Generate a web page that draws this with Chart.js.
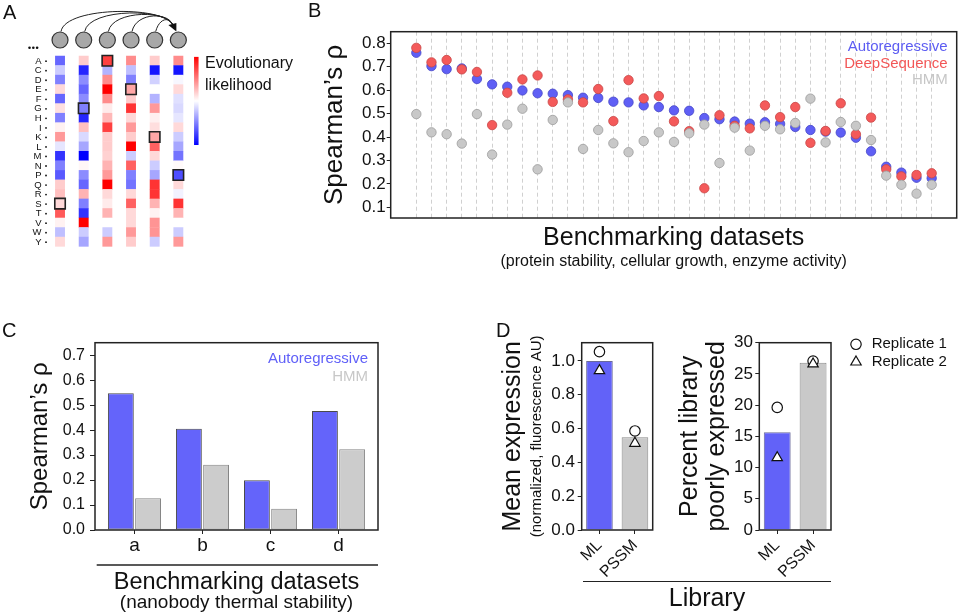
<!DOCTYPE html>
<html>
<head>
<meta charset="utf-8">
<script src="https://cdn.jsdelivr.net/npm/chart.js@4.4.1/dist/chart.umd.min.js"></script>
<style>
  body { margin: 0; background: #fff; }
  #page { position: relative; width: 960px; height: 615px; overflow: hidden; font-family: "Liberation Sans", Arial, sans-serif; color: #111; }
  #page canvas { position: absolute; }
  .tag { position: absolute; font-size: 20px; line-height: 20px; }
  .rule { position: absolute; height: 0; border-top: 1.5px solid #222; }
  .lbl { position: absolute; text-align: center; white-space: nowrap; }
</style>
</head>
<body>
<div id="page">
  <canvas id="panelA" width="300" height="260" style="left:0;top:0"></canvas>
  <canvas id="panelB" width="660" height="280" style="left:300px;top:0"></canvas>
  <canvas id="panelC" width="400" height="300" style="left:0;top:320px"></canvas>
  <canvas id="panelD1" width="180" height="295" style="left:480px;top:320px"></canvas>
  <canvas id="panelD2" width="295" height="295" style="left:665px;top:320px"></canvas>

  <div class="tag" style="left:3px;top:2px">A</div>
  <div class="tag" style="left:308px;top:0px">B</div>
  <div class="tag" style="left:2px;top:320px">C</div>
  <div class="tag" style="left:496px;top:320px">D</div>

  <div class="rule" style="left:583px;top:581px;width:248px"></div>
  <div class="lbl" style="left:607px;top:582px;width:200px;font-size:25px;line-height:30px">Library</div>
</div>

<script>
var FONT = '"Liberation Sans", Arial, sans-serif';
Chart.defaults.font.family = FONT;
Chart.defaults.color = '#111';
Chart.defaults.animation = false;
Chart.defaults.responsive = false;
Chart.defaults.events = [];
Chart.defaults.plugins.legend.display = false;
Chart.defaults.plugins.tooltip.enabled = false;

// ---------- A: per-position evolutionary likelihood ----------
var aminoAcids = ['A','C','D','E','F','G','H','I','K','L','M','N','P','Q','R','S','T','V','W','Y'];
// one array per sequence position, one score per amino acid (-1 blue ... +1 red)
var position1 = [-0.6,-0.2,-0.5,0.15,-0.6,0.12,-0.5,0.05,0.4,-0.1,-0.8,-0.5,-0.65,0.2,0.25,0.15,0.65,0.05,-0.25,0.15];
var position2 = [0.2,-0.85,-0.45,-0.6,-0.45,-0.5,-0.85,0.25,-0.15,-0.35,-1.0,0.03,-0.45,-0.6,0.3,-0.5,-0.8,1.0,-0.2,-0.35];
var position3 = [0.75,-0.3,0.45,1.0,0.45,0.08,0.28,0.75,0.2,0.2,0.18,0.3,0.4,1.0,0.15,0.08,0.3,0.0,-0.2,0.4];
var position4 = [0.45,-0.25,-0.5,0.35,0.2,0.8,0.15,0.4,0.2,1.0,-0.2,0.62,-0.5,-0.55,0.15,0.62,0.15,0.15,0.4,0.2];
var position5 = [0.2,-0.92,-0.18,0.0,-0.3,0.4,0.06,0.13,0.35,0.62,0.15,-0.2,-0.35,0.8,0.8,0.3,0.05,0.42,0.42,-0.2];
var position6 = [0.45,-0.92,-0.03,0.15,-0.12,-0.15,-0.1,0.15,-0.2,-0.35,-0.55,0.02,-0.7,0.15,-0.05,0.8,0.3,0.0,-0.2,0.4];
var wildType = ['S','G','A','E','K','P'];

// ---------- B: benchmark correlations ----------
var autoregressiveB = [0.760,0.703,0.690,0.693,0.648,0.625,0.615,0.599,0.587,0.585,0.579,0.568,0.567,0.551,0.548,0.535,0.528,0.514,0.512,0.481,0.476,0.466,0.457,0.463,0.456,0.443,0.430,0.423,0.419,0.397,0.339,0.273,0.248,0.226,0.224];
var deepSequenceB = [0.781,0.719,0.729,0.689,0.678,0.451,0.589,0.646,0.663,0.550,0.561,0.548,0.605,0.468,0.643,0.565,0.575,0.467,0.425,0.181,0.493,0.448,0.437,0.535,0.485,0.528,0.375,0.426,0.544,0.412,0.483,0.262,0.232,0.238,0.245];
var hmmB = [0.498,0.420,0.412,0.372,0.498,0.325,0.453,0.521,0.262,0.473,0.548,0.349,0.430,0.373,0.335,0.383,0.420,0.379,0.416,0.453,0.289,0.440,0.342,0.448,0.433,0.460,0.564,0.377,0.464,0.448,0.387,0.235,0.196,0.158,0.196];
var yTicksB = [0.1,0.2,0.3,0.4,0.5,0.6,0.7,0.8];

// ---------- C: nanobody thermal stability ----------
var nanobodySets = ['a','b','c','d'];
var autoregressiveC = [0.548,0.405,0.199,0.477];
var hmmC = [0.127,0.261,0.085,0.323];
var yTicksC = [0,0.1,0.2,0.3,0.4,0.5,0.6,0.7];

// ---------- D: library expression ----------
var libraries = ['ML','PSSM'];
var meanExpression = [1.0,0.548];
var expressionRep1 = [1.055,0.586];
var expressionRep2 = [0.943,0.513];
var yTicksD1 = [0,0.2,0.4,0.6,0.8,1.0];
var poorlyExpressed = [15.64,26.8];
var poorlyRep1 = [19.64,27.06];
var poorlyRep2 = [11.58,26.6];
var yTicksD2 = [0,5,10,15,20,25,30];

var BLUE = '#6262f8', GRAY = '#c9c9c9';

function bwr(v) {
  var t;
  if (v < 0) { t = Math.round(255 * (1 + v)); return 'rgb(' + t + ',' + t + ',255)'; }
  t = Math.round(255 * (1 - v));
  return 'rgb(255,' + t + ',' + t + ')';
}
function fixedTicks(list) {
  return function(scale) { scale.ticks = list.map(function(v) { return {value: v}; }); };
}

// ---------- shared plugins ----------
var framePlugin = {
  id: 'frame',
  afterDatasetsDraw: function(chart) {
    var a = chart.chartArea, ctx = chart.ctx;
    ctx.save();
    ctx.strokeStyle = '#222';
    ctx.lineWidth = 1.5;
    ctx.strokeRect(a.left, a.top, a.right - a.left, a.bottom - a.top);
    ctx.restore();
  }
};

// legend inside the plot, labels coloured like their series
var cornerLegendPlugin = {
  id: 'cornerLegend',
  afterDraw: function(chart, args, opts) {
    var a = chart.chartArea, ctx = chart.ctx;
    ctx.save();
    ctx.font = opts.size + 'px ' + FONT;
    ctx.textAlign = 'right';
    ctx.textBaseline = 'middle';
    chart.data.datasets.forEach(function(ds, i) {
      ctx.fillStyle = ds.legendColor;
      ctx.fillText(ds.label, a.right - opts.right, a.top + opts.top + i * opts.gap);
    });
    ctx.restore();
  }
};

// axis caption lines under the x axis
var captionPlugin = {
  id: 'caption',
  afterDraw: function(chart, args, opts) {
    var a = chart.chartArea, ctx = chart.ctx;
    var cx = (a.left + a.right) / 2;
    ctx.save();
    if (opts.rule) {
      ctx.strokeStyle = '#222';
      ctx.lineWidth = 1.5;
      ctx.beginPath();
      ctx.moveTo(a.left + opts.rule.inset, a.bottom + opts.rule.dy);
      ctx.lineTo(a.right, a.bottom + opts.rule.dy);
      ctx.stroke();
    }
    ctx.fillStyle = '#111';
    ctx.textAlign = 'center';
    ctx.textBaseline = 'middle';
    (opts.lines || []).forEach(function(l) {
      ctx.font = l.size + 'px ' + FONT;
      ctx.fillText(l.text, cx, a.bottom + l.dy);
    });
    ctx.restore();
  }
};

// ---------- A ----------
var positions = [position1, position2, position3, position4, position5, position6];
var heatCells = [];
positions.forEach(function(col, c) {
  col.forEach(function(v, r) { heatCells.push({x: c, y: r, v: v}); });
});
var wtCells = wildType.map(function(aa, c) {
  var r = aminoAcids.indexOf(aa);
  return {x: c, y: r, v: positions[c][r]};
});
var nodes = positions.map(function(_, c) { return {x: c, y: -2.17}; });

var schematicPlugin = {
  id: 'schematic',
  afterDatasetsDraw: function(chart) {
    var ctx = chart.ctx, ys = chart.scales.y;
    var pts = chart.getDatasetMeta(2).data;
    var first = pts[0], last = pts[pts.length - 1];
    var r = 8.5;
    ctx.save();

    // arcs from every earlier position into the last one
    ctx.strokeStyle = '#222';
    ctx.lineWidth = 1;
    var ex = last.x - 4, ey = last.y - r - 1.5;
    var lifts = [26, 24, 22, 20, 15];
    for (var i = 0; i < pts.length - 1; i++) {
      var p = pts[i], top = p.y - r;
      ctx.beginPath();
      ctx.moveTo(p.x + 1, top);
      ctx.bezierCurveTo(p.x + 5, top - lifts[i], ex - 3, top - lifts[i], ex - 1, ey - 3);
      ctx.stroke();
    }
    ctx.fillStyle = '#111';
    ctx.beginPath();
    ctx.moveTo(ex + 2, ey + 1.5);
    ctx.lineTo(ex - 6, ey - 5);
    ctx.lineTo(ex + 2, ey - 7);
    ctx.closePath();
    ctx.fill();

    // leading dots
    for (var d = 0; d < 3; d++) {
      ctx.beginPath();
      ctx.arc(first.x - 30.5 + d * 3.8, first.y + 7.7, 1.3, 0, Math.PI * 2);
      ctx.fill();
    }

    // amino-acid row labels
    ctx.font = '9.5px ' + FONT;
    ctx.textAlign = 'right';
    ctx.textBaseline = 'middle';
    aminoAcids.forEach(function(aa, row) {
      var y = ys.getPixelForValue(row);
      ctx.fillText(aa, first.x - 18.5, y + 0.5);
      ctx.beginPath();
      ctx.arc(first.x - 14, y + 0.5, 0.9, 0, Math.PI * 2);
      ctx.fill();
    });

    // colour bar
    var cbTop = ys.getPixelForValue(-0.4), cbBot = ys.getPixelForValue(8.85);
    var cbX = last.x + 15.7;
    var g = ctx.createLinearGradient(0, cbTop, 0, cbBot);
    g.addColorStop(0, bwr(1));
    g.addColorStop(0.5, bwr(0));
    g.addColorStop(1, bwr(-1));
    ctx.fillStyle = g;
    ctx.fillRect(cbX, cbTop, 4.5, cbBot - cbTop);

    ctx.fillStyle = '#111';
    ctx.font = '16px ' + FONT;
    ctx.textAlign = 'left';
    ctx.textBaseline = 'alphabetic';
    ctx.fillText('Evolutionary', cbX + 11, cbTop + 11.5);
    ctx.fillText('likelihood', cbX + 11, cbTop + 33);
    ctx.restore();
  }
};

new Chart(document.getElementById('panelA'), {
  type: 'scatter',
  data: {
    datasets: [{
      data: heatCells,
      pointStyle: 'rect',
      radius: 7.0,
      borderWidth: 0,
      backgroundColor: function(c) { return bwr(c.raw.v); },
      order: 3
    }, {
      data: wtCells,
      pointStyle: 'rect',
      radius: 7.4,
      borderWidth: 1.6,
      borderColor: '#222',
      backgroundColor: function(c) { return bwr(c.raw.v); },
      order: 2
    }, {
      data: nodes,
      pointStyle: 'circle',
      radius: 8,
      borderWidth: 1.2,
      borderColor: '#333',
      backgroundColor: '#a8a8a8',
      order: 1
    }]
  },
  options: {
    layout: {padding: 0, autoPadding: false},
    scales: {
      x: {display: false, min: -2.536, max: 10.14},
      y: {display: false, min: -6.371, max: 20.92, reverse: true}
    }
  },
  plugins: [schematicPlugin]
});

// ---------- B ----------
function toPoints(list) { return list.map(function(v, i) { return {x: i, y: v}; }); }

new Chart(document.getElementById('panelB'), {
  type: 'scatter',
  data: {
    datasets: [
      {label: 'Autoregressive', data: toPoints(autoregressiveB), backgroundColor: '#5f5ff5', borderColor: '#4646c6', legendColor: '#5c5cf2', order: 3},
      {label: 'DeepSequence', data: toPoints(deepSequenceB), backgroundColor: '#f45a5a', borderColor: '#c84646', legendColor: '#f25656', order: 2},
      {label: 'HMM', data: toPoints(hmmB), backgroundColor: '#c8c8c8', borderColor: '#9c9c9c', legendColor: '#c6c6c6', order: 1}
    ]
  },
  options: {
    layout: {padding: {top: 31.7, right: 3.3, left: 0, bottom: 0}, autoPadding: false},
    elements: {point: {radius: 4.7, borderWidth: 0.8}},
    scales: {
      x: {
        min: -1.69, max: 35.65,
        afterBuildTicks: fixedTicks(autoregressiveB.map(function(_, i) { return i; })),
        afterFit: function(s) { s.height = 62; },
        ticks: {display: false},
        grid: {color: '#d0d0d0', drawTicks: false},
        border: {display: false, dash: [4, 3]}
      },
      y: {
        min: 0.054, max: 0.85,
        afterBuildTicks: fixedTicks(yTicksB),
        afterFit: function(s) { s.width = 90.7; },
        ticks: {font: {size: 17}, padding: 1, callback: function(v) { return v.toFixed(1); }},
        grid: {drawOnChartArea: false, tickLength: 4, color: '#222'},
        border: {display: false},
        title: {display: true, text: 'Spearman’s ρ', font: {size: 26}, padding: {top: 19.4, bottom: 0}}
      }
    },
    plugins: {
      cornerLegend: {size: 15, right: 9, top: 15, gap: 16.7},
      caption: {lines: [
        {text: 'Benchmarking datasets', size: 25, dy: 20},
        {text: '(protein stability, cellular growth, enzyme activity)', size: 16, dy: 44}
      ]}
    }
  },
  plugins: [framePlugin, cornerLegendPlugin, captionPlugin]
});

// ---------- C ----------
new Chart(document.getElementById('panelC'), {
  type: 'bar',
  data: {
    datasets: [
      {label: 'Autoregressive', data: toPoints(autoregressiveC), backgroundColor: '#6464fa', borderColor: '#4a4a4a', borderWidth: 1, legendColor: '#6060f8'},
      {label: 'HMM', data: toPoints(hmmC), backgroundColor: '#cccccc', borderColor: '#858585', borderWidth: 1, legendColor: '#c8c8c8'}
    ]
  },
  options: {
    datasets: {bar: {categoryPercentage: 0.8, barPercentage: 0.95, borderSkipped: false}},
    layout: {padding: {top: 22.7, right: 22, left: 0, bottom: 0}},
    scales: {
      x: {
        type: 'linear', offset: false, min: -0.58, max: 3.58,
        afterBuildTicks: fixedTicks([0, 1, 2, 3]),
        afterFit: function(s) { s.height = 90; },
        ticks: {font: {size: 19}, padding: 0, callback: function(v) { return nanobodySets[v]; }},
        grid: {drawOnChartArea: false, offset: false, tickLength: 4, color: '#222'},
        border: {display: false}
      },
      y: {
        min: 0, max: 0.75,
        afterBuildTicks: fixedTicks(yTicksC),
        afterFit: function(s) { s.width = 95; },
        ticks: {font: {size: 16}, padding: 5, callback: function(v) { return v.toFixed(1); }},
        grid: {drawOnChartArea: false, tickLength: 5, color: '#222'},
        border: {display: false},
        title: {display: true, text: 'Spearman’s ρ', font: {size: 24}, padding: {top: 25.6, bottom: 0}}
      }
    },
    plugins: {
      cornerLegend: {size: 15, right: 10, top: 16.3, gap: 17.7},
      caption: {
        rule: {dy: 35, inset: 1.7},
        lines: [
          {text: 'Benchmarking datasets', size: 23.5, dy: 53},
          {text: '(nanobody thermal stability)', size: 19, dy: 73}
        ]
      }
    }
  },
  plugins: [framePlugin, cornerLegendPlugin, captionPlugin]
});

// ---------- D ----------
var sideNotePlugin = {
  id: 'sideNote',
  afterDraw: function(chart, args, opts) {
    if (!opts.text) return;
    var a = chart.chartArea, ctx = chart.ctx;
    ctx.save();
    ctx.translate(a.left - opts.offset, (a.top + a.bottom) / 2);
    ctx.rotate(-Math.PI / 2);
    ctx.font = opts.size + 'px ' + FONT;
    ctx.fillStyle = '#111';
    ctx.textAlign = 'center';
    ctx.textBaseline = 'middle';
    ctx.fillText(opts.text, 0, 0);
    ctx.restore();
  }
};

var markerLegendPlugin = {
  id: 'markerLegend',
  afterDraw: function(chart, args, opts) {
    if (!opts.show) return;
    var a = chart.chartArea, ctx = chart.ctx;
    var items = chart.data.datasets.filter(function(ds) { return ds.type === 'line'; });
    ctx.save();
    ctx.font = opts.size + 'px ' + FONT;
    ctx.textAlign = 'left';
    ctx.textBaseline = 'middle';
    items.forEach(function(ds, i) {
      var x = a.right + opts.x, y = a.top + opts.top + i * opts.gap;
      var r = ds.pointRadius;
      ctx.beginPath();
      if (ds.pointStyle === 'triangle') {
        for (var k = 0; k < 3; k++) {
          var ang = k * 2 * Math.PI / 3;
          var px = x + Math.sin(ang) * r, py = y - Math.cos(ang) * r;
          if (k === 0) ctx.moveTo(px, py); else ctx.lineTo(px, py);
        }
        ctx.closePath();
      } else {
        ctx.arc(x, y, r, 0, Math.PI * 2);
      }
      ctx.fillStyle = '#fff';
      ctx.fill();
      ctx.lineWidth = 1.2;
      ctx.strokeStyle = '#111';
      ctx.stroke();
      ctx.fillStyle = '#111';
      ctx.fillText(ds.label, a.right + opts.textX, y);
    });
    ctx.restore();
  }
};

function replicateSets(rep1, rep2) {
  return [{
    type: 'line', label: 'Replicate 1', data: rep1, showLine: false,
    pointStyle: 'circle', pointRadius: 5.2, pointBackgroundColor: '#fff',
    pointBorderColor: '#111', pointBorderWidth: 1.2, order: 1
  }, {
    type: 'line', label: 'Replicate 2', data: rep2, showLine: false,
    pointStyle: 'triangle', pointRadius: 6, pointBackgroundColor: '#fff',
    pointBorderColor: '#111', pointBorderWidth: 1.2, order: 0
  }];
}

function libraryChart(id, opt) {
  return new Chart(document.getElementById(id), {
    type: 'bar',
    data: {
      labels: libraries,
      datasets: [{
        type: 'bar', label: 'Mean', data: opt.bars,
        backgroundColor: [BLUE, GRAY], borderColor: ['#6a6a9a', '#8a8a8a'], borderWidth: 1,
        categoryPercentage: 1, barPercentage: 0.75, order: 2
      }].concat(replicateSets(opt.rep1, opt.rep2))
    },
    options: {
      layout: {padding: {top: 22.7, right: opt.right, left: 0, bottom: 0}},
      scales: {
        x: {
          afterFit: function(s) { s.height = 85; },
          ticks: {font: {size: 16}, maxRotation: 45, minRotation: 45, padding: 2},
          grid: {drawOnChartArea: false, offset: false, tickLength: 4, color: '#222'},
          border: {display: false}
        },
        y: {
          min: 0, max: opt.max,
          afterBuildTicks: fixedTicks(opt.ticks),
          afterFit: function(s) { s.width = opt.axisWidth; },
          ticks: {font: {size: 17}, padding: opt.tickPad, callback: opt.fmt},
          grid: {drawOnChartArea: false, tickLength: 4, color: '#222'},
          border: {display: false},
          title: {display: true, text: opt.title, font: {size: 25, lineHeight: 1.1}, padding: {top: opt.titlePad, bottom: 0}}
        }
      },
      plugins: {
        sideNote: opt.note || {},
        markerLegend: opt.legend || {}
      }
    },
    plugins: [framePlugin, sideNotePlugin, markerLegendPlugin]
  });
}

libraryChart('panelD1', {
  bars: meanExpression, rep1: expressionRep1, rep2: expressionRep2,
  max: 1.108, ticks: yTicksD1, axisWidth: 101.7, tickPad: 2.7, right: 7.3,
  fmt: function(v) { return v.toFixed(1); },
  title: 'Mean expression', titlePad: 19.3,
  note: {text: '(normalized, fluorescence AU)', size: 15, offset: 45}
});

libraryChart('panelD2', {
  bars: poorlyExpressed, rep1: poorlyRep1, rep2: poorlyRep2,
  max: 30, ticks: yTicksD2, axisWidth: 94.3, tickPad: 2.3, right: 129,
  fmt: function(v) { return String(v); },
  title: ['Percent library', 'poorly expressed'], titlePad: 11.2,
  legend: {show: true, size: 15, x: 25, top: 1.6, gap: 17.7, textX: 40.7}
});
</script>
</body>
</html>
